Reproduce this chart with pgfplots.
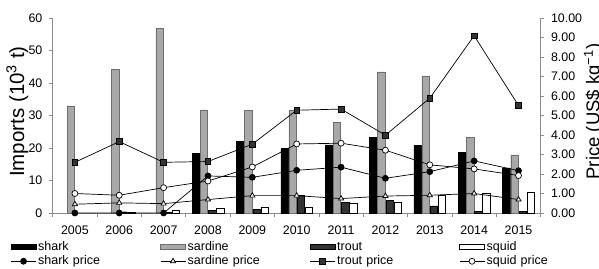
\documentclass[border=0pt]{standalone}
\usepackage{fontspec}
\setmainfont{Liberation Sans}
\usepackage{pgfplots}
\pgfplotsset{compat=1.18}
\definecolor{sardinefill}{HTML}{A8A8A8}
\definecolor{sardineedge}{HTML}{6E6E6E}
\definecolor{troutfill}{HTML}{333333}
\definecolor{axisgray}{HTML}{8C8C8C}
\definecolor{trifill}{HTML}{E6E6E6}
\pgfplotsset{
  barleg/.style={legend image code/.code={\draw[##1] (0pt,-2.5pt) rectangle (25pt,2.5pt);}},
  lineleg/.style={legend image code/.code={\draw[mark repeat=2,mark phase=2,##1,/tikz/sharp plot] plot coordinates {(0pt,0pt) (12.5pt,0pt) (25pt,0pt)};}},
  common/.style={
    at={(52.7pt,55pt)}, anchor=south west,
    scale only axis, width=488pt, height=195pt,
    xmin=-0.5, xmax=10.5,
    /pgf/number format/assume math mode=true,
    tick label style={font=\fontsize{12.4}{14}\selectfont},
    axis line style={axisgray, line width=0.6pt},
    tick style={axisgray, line width=0.6pt},
    tick align=outside, major tick length=3.5pt, minor tick length=3.5pt,
  },
}
\begin{document}
\begin{tikzpicture}
\path[use as bounding box] (0,0) rectangle (599pt,268pt);
\begin{axis}[common,
  ymin=0, ymax=60, ytick={0,10,...,60},
  axis x line*=bottom, axis y line*=left,
  yticklabel style={xshift=-3.3pt},
  ybar, bar width=7.4pt,
  xtick={0,...,10},
  xticklabels={2005,2006,2007,2008,2009,2010,2011,2012,2013,2014,2015},
  xticklabel style={yshift=-5.5pt},
  major x tick style={draw=none},
  minor xtick={-0.5,0.5,...,10.5},
  ylabel={Imports (10\textsuperscript{3} t)},
  ylabel style={at={(axis description cs:-0.0588,0.52)}, anchor=base, rotate=0, font=\fontsize{20.5}{22}\selectfont},
  legend columns=4,
  legend style={at={(axis description cs:-0.0861,-0.1436)}, anchor=north west,
    draw=none, fill=none, inner sep=0pt, outer sep=0pt,
    font=\fontsize{12.5}{14}\selectfont, row sep=3pt,
    nodes={inner sep=0pt, text width=122pt, text height=9pt, text depth=2.5pt, align=left},
    /tikz/every odd column/.append style={column sep=1.8pt}},
  legend cell align=left,
]
\addplot[fill=black, draw=black, line width=0.4pt, bar shift=-12.2pt, barleg] coordinates {
 (3,18.4) (4,22.0) (5,19.8) (6,21.0) (7,23.2) (8,20.9) (9,18.6) (10,13.9)};
\addlegendentry{shark}
\addplot[fill=sardinefill, draw=sardineedge, line width=0.4pt, bar shift=-4.1pt, barleg] coordinates {
 (0,33.0) (1,44.2) (2,56.8) (3,31.7) (4,31.5) (5,31.7) (6,27.9) (7,43.4) (8,42.2) (9,23.2) (10,17.9)};
\addlegendentry{sardine}
\addplot[fill=troutfill, draw=black, line width=0.4pt, bar shift=4.1pt, barleg] coordinates {
 (1,0.4) (2,0.2) (3,0.85) (4,1.15) (5,5.5) (6,3.3) (7,3.9) (8,2.2) (9,0.5) (10,0.5)};
\addlegendentry{trout}
\addplot[fill=white, draw=black, line width=0.4pt, bar shift=12.2pt, barleg] coordinates {
 (1,0.2) (2,0.9) (3,1.35) (4,1.85) (5,1.9) (6,2.9) (7,3.4) (8,5.5) (9,6.2) (10,6.3)};
\addlegendentry{squid}
\addlegendimage{lineleg, bar shift=0pt, black, line width=0.7pt, mark=*, mark size=3pt, mark options={fill=black}}
\addlegendentry{shark price}
\addlegendimage{lineleg, bar shift=0pt, black, line width=0.7pt, mark=triangle*, mark size=3pt, mark options={fill=trifill}}
\addlegendentry{sardine price}
\addlegendimage{lineleg, bar shift=0pt, black, line width=0.7pt, mark=square*, mark size=2.8pt, mark options={fill=troutfill}}
\addlegendentry{trout price}
\addlegendimage{lineleg, bar shift=0pt, black, line width=0.7pt, mark=*, mark size=3pt, mark options={fill=white}}
\addlegendentry{squid price}
\end{axis}
\begin{axis}[common,
  ymin=0, ymax=10, ytick={0,1,...,10},
  axis y line*=right, axis x line=none,
  yticklabel style={xshift=3.3pt, /pgf/number format/.cd, fixed, fixed zerofill, precision=2},
  ylabel={Price (US\$ kg\textsuperscript{−1})},
  ylabel style={at={(axis description cs:1.12,0.52)}, anchor=base, rotate=0, font=\fontsize{18.5}{20}\selectfont},
]
\addplot[black, line width=0.7pt, mark=*, mark size=3pt, mark options={fill=black}] coordinates {
 (0,0) (1,0) (2,0) (3,1.90) (4,1.83) (5,2.19) (6,2.35) (7,1.78) (8,2.12) (9,2.67) (10,2.17)};
\addplot[black, line width=0.7pt, mark=triangle*, mark size=3pt, mark options={fill=trifill}] coordinates {
 (0,0.45) (1,0.52) (2,0.48) (3,0.69) (4,0.89) (5,0.89) (6,0.74) (7,0.87) (8,0.91) (9,1.00) (10,0.69)};
\addplot[black, line width=0.7pt, mark=square*, mark size=2.8pt, mark options={fill=troutfill}] coordinates {
 (0,2.60) (1,3.66) (2,2.60) (3,2.64) (4,3.53) (5,5.27) (6,5.33) (7,3.99) (8,5.89) (9,9.09) (10,5.51)};
\addplot[black, line width=0.7pt, mark=*, mark size=3pt, mark options={fill=white}] coordinates {
 (0,1.00) (1,0.91) (2,1.30) (3,1.64) (4,2.36) (5,3.54) (6,3.58) (7,3.22) (8,2.47) (9,2.26) (10,1.92)};
\end{axis}
\end{tikzpicture}
\end{document}
